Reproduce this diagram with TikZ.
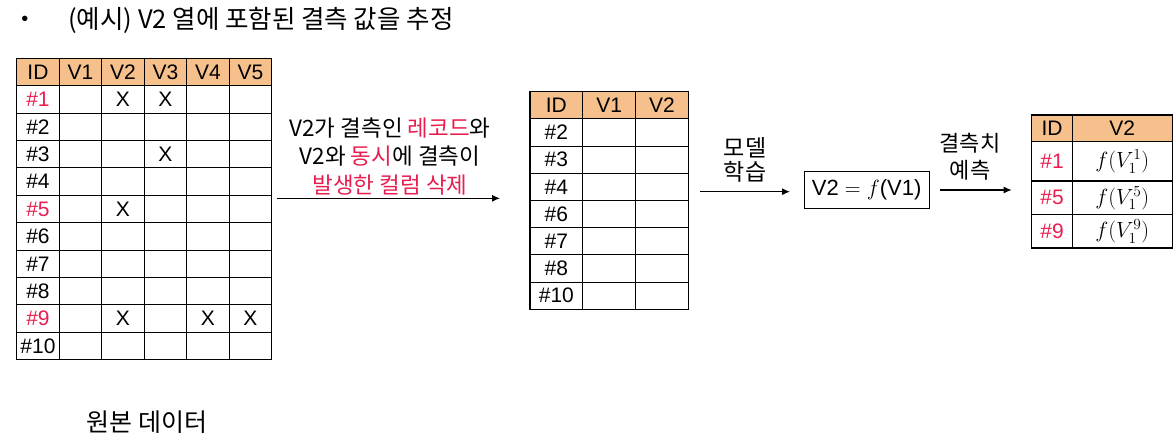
\documentclass[tikz,border=0pt]{standalone}
\usepackage{fix-cm}
\usepackage{fontspec}
\setmainfont{Liberation Sans}
\newfontfamily\kr{Noto Sans CJK KR}
\usetikzlibrary{arrows.meta,positioning}
\definecolor{hdrorange}{HTML}{F5C08C}
\definecolor{missred}{HTML}{E91E4F}

\begin{document}
\begin{tikzpicture}[x=1pt,y=-1pt,
  tcell/.style={draw,line width=1.1pt,inner sep=0pt,outer sep=0pt,minimum width=42.5pt,minimum height=27.4pt,font=\fontsize{21}{21}\selectfont},
  hcell/.style={tcell,fill=hdrorange},
  xmark/.style={font=\fontsize{21}{21}\selectfont,inner sep=0pt},
  fcell/.style={tcell,minimum width=100pt,font=\fontsize{22}{22}\selectfont},
  krtext/.style={font=\kr\fontsize{22.5}{28.5}\selectfont,align=center},
  arr/.style={-{Latex[length=8pt,width=7pt]},line width=1.1pt}]
\useasboundingbox (0,0) rectangle (1176,442);

% title
\node (dot) at (25,21) {\fontsize{20}{20}\selectfont\textbullet};
\node[anchor=west,font=\kr\fontsize{25.5}{25.5}\selectfont,inner sep=0pt] (title) at (68,20) {(예시) V2 열에 포함된 결측 값을 추정};

% original data
\foreach \lbl [count=\c from 0] in {ID,V1,V2,V3,V4,V5}
  \node[hcell] (a-0-\c) at ({37.95+42.5*\c},72) {\lbl};
\foreach \r/\col in {1/missred,2/black,3/black,4/black,5/missred,6/black,7/black,8/black,9/missred,10/black} {
  \node[tcell,text=\col] (a-\r-0) at (37.95,{72+27.4*\r}) {\#\r};
  \foreach \c in {1,...,5}
    \node[tcell] (a-\r-\c) at ({37.95+42.5*\c},{72+27.4*\r}) {};
}
\foreach \r/\c in {1/2,1/3,3/3,5/2,9/2,9/4,9/5}
  \node[xmark] (x-\r-\c) at (a-\r-\c) {X};
\node[font=\kr\fontsize{25}{25}\selectfont] (orig) at (146.7,421.7) {원본 데이터};

% reduced data
\foreach \lbl [count=\c from 0] in {ID,V1,V2}
  \node[hcell,minimum width=52.8pt,minimum height=27.2pt] (b-0-\c) at ({556.4+52.8*\c},105.3) {\lbl};
\foreach \id [count=\r] in {2,3,4,6,7,8,10}
  \foreach \c in {0,1,2}
    \node[tcell,minimum width=52.8pt,minimum height=27.2pt] (b-\r-\c) at ({556.4+52.8*\c},{105.3+27.2*\r}) {\ifnum\c=0 \#\id\fi};

% model
\node[draw,line width=0.9pt,minimum width=125pt,minimum height=37pt,inner sep=0pt,font=\fontsize{22}{22}\selectfont] (fx) at (866.7,190.3) {V2 $=$ $f$(V1)};

% predicted values
\node[hcell,minimum width=40.6pt,minimum height=26.7pt] (c-0-0) at (1052,128.3) {ID};
\node[hcell,minimum width=100pt,minimum height=26.7pt] (c-0-1) at (1122.3,128.3) {V2};
\node[tcell,text=missred,minimum width=40.6pt,minimum height=39.3pt] (c-1-0) at (1052,161.35) {\#1};
\node[fcell,minimum height=39.3pt] (c-1-1) at (1122.3,161.35) {$f(V_1^1)$};
\node[tcell,text=missred,minimum width=40.6pt,minimum height=33.7pt] (c-2-0) at (1052,197.85) {\#5};
\node[fcell,minimum height=33.7pt] (c-2-1) at (1122.3,197.85) {$f\bigl(V_1^5\bigr)$};
\node[tcell,text=missred,minimum width=40.6pt,minimum height=33.3pt] (c-3-0) at (1052,231.35) {\#9};
\node[fcell,minimum height=33.3pt] (c-3-1) at (1122.3,231.35) {$f\bigl(V_1^9\bigr)$};

% arrows
\coordinate (s1) at (276.7,198.3);
\coordinate (e1) at (500,198.3);
\coordinate (s2) at (700,191.7);
\coordinate (e2) at (790,191.7);
\coordinate (s3) at (940,190);
\coordinate (e3) at (1011.7,190);
\draw[arr] (s1) -- (e1);
\draw[arr] (s2) -- (e2);
\draw[arr] (s3) -- (e3);
\node[krtext] (drop) at (390,156.5) {V2가 결측인 \textcolor{missred}{레코드}와\\V2와 \textcolor{missred}{동시}에 결측이\\\textcolor{missred}{발생한 컬럼 삭제}};
\node[krtext,font=\kr\fontsize{23}{23.5}\selectfont] (fit) at (745,160) {모델\\학습};
\node[krtext,font=\kr\fontsize{22}{27}\selectfont] (pred) at (970,156.5) {결측치\\예측};
\end{tikzpicture}
\end{document}
